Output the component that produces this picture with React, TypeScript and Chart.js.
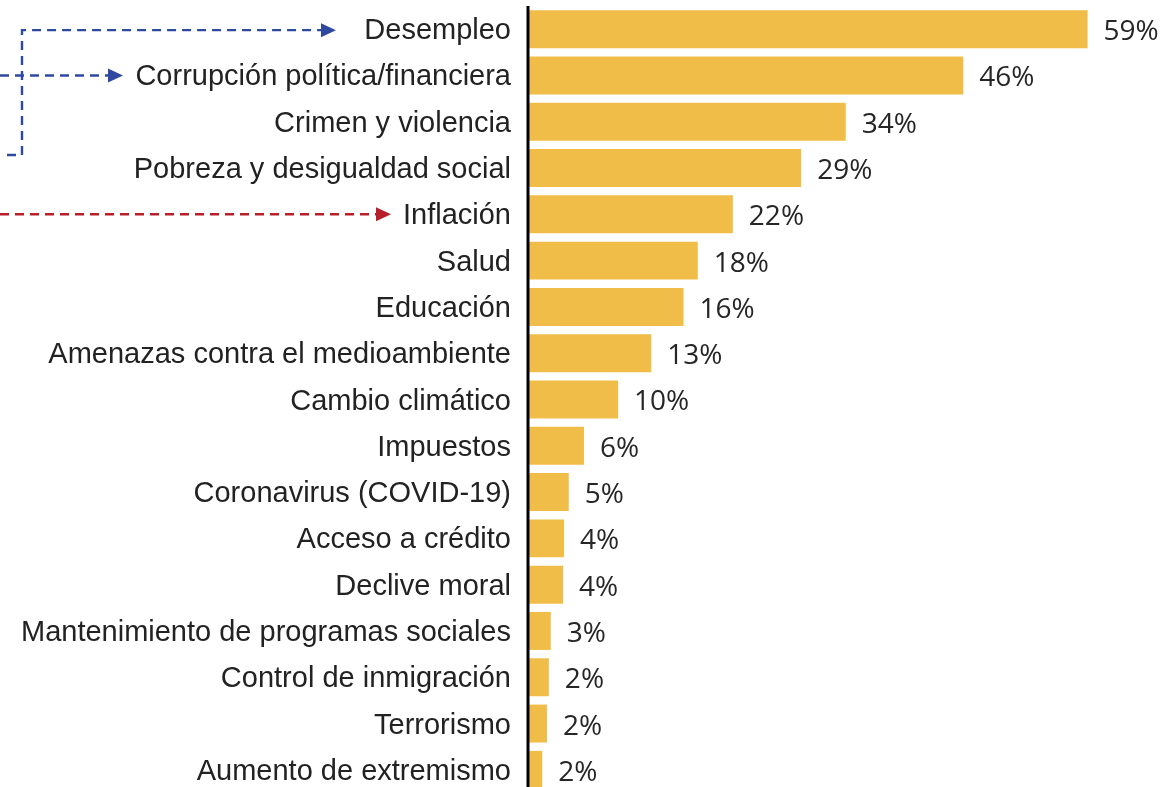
import React, { useEffect, useRef } from "react";
import { Chart, registerables } from "chart.js";

Chart.register(...registerables);

const categories = [
  "Desempleo",
  "Corrupción política/financiera",
  "Crimen y violencia",
  "Pobreza y desigualdad social",
  "Inflación",
  "Salud",
  "Educación",
  "Amenazas contra el medioambiente",
  "Cambio climático",
  "Impuestos",
  "Coronavirus (COVID-19)",
  "Acceso a crédito",
  "Declive moral",
  "Mantenimiento de programas sociales",
  "Control de inmigración",
  "Terrorismo",
  "Aumento de extremismo",
];

const values = [59, 45.9, 33.5, 28.8, 21.6, 17.9, 16.4, 13.0, 9.5, 5.9, 4.3, 3.8, 3.7, 2.4, 2.2, 2.0, 1.5];

const valueLabels = ["59%", "46%", "34%", "29%", "22%", "18%", "16%", "13%", "10%", "6%", "5%", "4%", "4%", "3%", "2%", "2%", "2%"];

const BAR_COLOR = "#F0BD48";
const BLUE = "#3049A0";
const RED = "#B71F2B";

function arrowHead(ctx: CanvasRenderingContext2D, tipX: number, y: number, color: string) {
  ctx.save();
  ctx.setLineDash([]);
  ctx.fillStyle = color;
  ctx.beginPath();
  ctx.moveTo(tipX, y);
  ctx.lineTo(tipX - 15, y - 7);
  ctx.lineTo(tipX - 15, y + 7);
  ctx.closePath();
  ctx.fill();
  ctx.restore();
}

const annotationPlugin = {
  id: "annotations",
  afterDraw(chart: any) {
    const ctx: CanvasRenderingContext2D = chart.ctx;
    const y = chart.scales.y;
    const y0 = y.getPixelForValue(0) + 1;
    const y1 = y.getPixelForValue(1);
    const y2 = y.getPixelForValue(2);
    const y4 = y.getPixelForValue(4);
    const pitch = y1 - y.getPixelForValue(0);
    const yEnd = y2 + pitch * 0.72;
    ctx.save();
    ctx.lineWidth = 2.4;
    ctx.setLineDash([9, 6]);
    ctx.strokeStyle = BLUE;
    // Desempleo
    ctx.beginPath();
    ctx.moveTo(7, yEnd);
    ctx.lineTo(22, yEnd);
    ctx.lineTo(22, y0);
    ctx.lineTo(321, y0);
    ctx.stroke();
    arrowHead(ctx, 336, y0, BLUE);
    // Corrupción
    ctx.beginPath();
    ctx.moveTo(0, y1);
    ctx.lineTo(108, y1);
    ctx.stroke();
    arrowHead(ctx, 123, y1, BLUE);
    // Inflación
    ctx.strokeStyle = RED;
    ctx.beginPath();
    ctx.moveTo(0, y4);
    ctx.lineTo(376, y4);
    ctx.stroke();
    arrowHead(ctx, 391, y4, RED);
    ctx.restore();
  },
};

const valueLabelPlugin = {
  id: "valueLabels",
  afterDatasetsDraw(chart: any) {
    const ctx: CanvasRenderingContext2D = chart.ctx;
    const meta = chart.getDatasetMeta(0);
    const area = chart.chartArea;
    ctx.save();
    // axis line drawn over bars
    ctx.fillStyle = "#000";
    ctx.fillRect(area.left - 1.5, area.top, 3, area.bottom - area.top);
    ctx.font = "28px 'Open Sans'";
    ctx.fillStyle = "#262626";
    ctx.textAlign = "left";
    ctx.textBaseline = "middle";
    meta.data.forEach((bar: any, i: number) => {
      ctx.fillText(valueLabels[i], bar.x + 16, bar.y + 3);
    });
    ctx.restore();
  },
};

export default function App() {
  const ref = useRef<HTMLCanvasElement>(null);
  useEffect(() => {
    if (!ref.current) return;
    const chart = new Chart(ref.current, {
      type: "bar",
      data: {
        labels: categories,
        datasets: [
          {
            data: values,
            backgroundColor: BAR_COLOR,
            borderWidth: 0,
            barPercentage: 0.82,
            categoryPercentage: 1,
          },
        ],
      },
      options: {
        indexAxis: "y",
        animation: false,
        responsive: false,
        events: [],
        layout: { padding: { top: 6, bottom: 7, left: 0, right: 26 } },
        plugins: { legend: { display: false }, tooltip: { enabled: false } },
        scales: {
          x: { display: false, min: 0, max: 64 },
          y: {
            afterFit(scale: any) {
              scale.width = 528;
              scale.paddingTop = 0;
              scale.paddingBottom = 0;
            },
            grid: { display: false, drawTicks: false },
            border: { display: false },
            ticks: {
              padding: 17,
              labelOffset: 2,
              color: "#222",
              font: { family: "'Liberation Sans', Arial", size: 29 },
              autoSkip: false,
            },
          },
        },
      },
      plugins: [valueLabelPlugin, annotationPlugin],
    });
    return () => chart.destroy();
  }, []);
  return (
    <div style={{ position: "fixed", left: 0, top: 0, width: 1161, height: 800 }}>
      <canvas ref={ref} width={1161} height={800} style={{ width: 1161, height: 800 }} />
    </div>
  );
}
